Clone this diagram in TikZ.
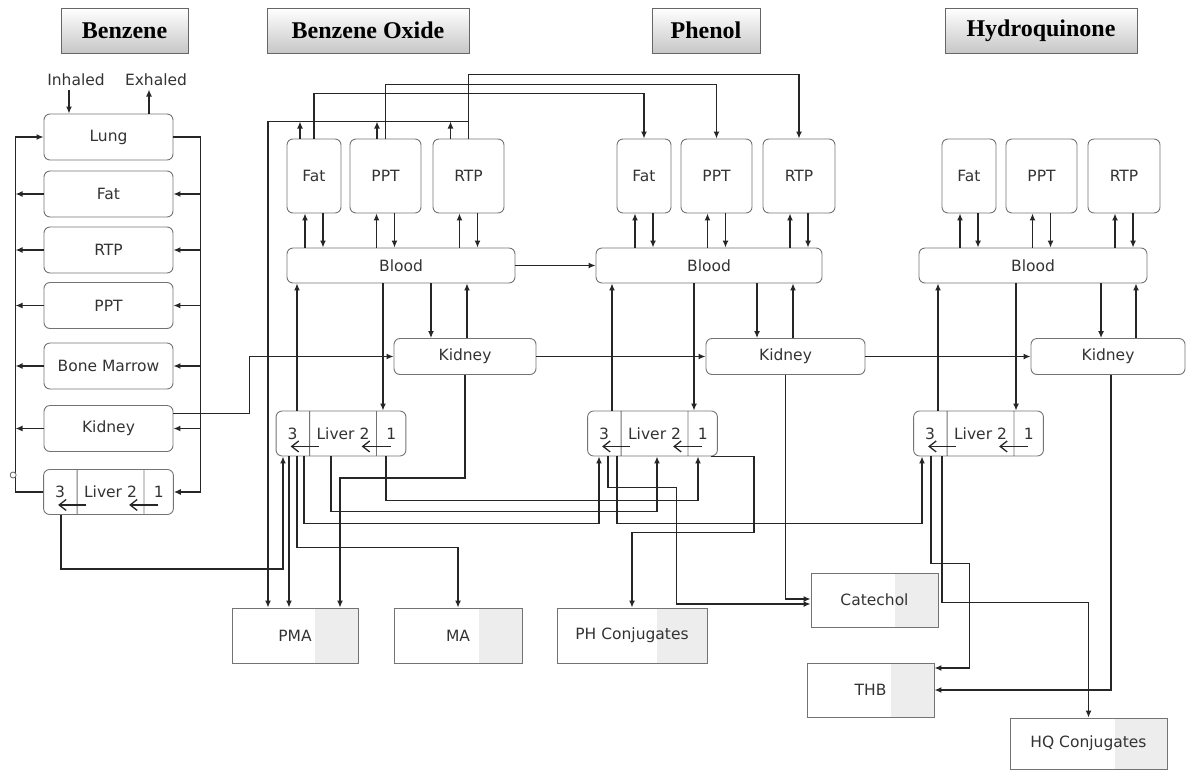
\documentclass[tikz,border=0pt]{standalone}
\usepackage{fontspec}
\setmainfont{DejaVu Sans}
\newfontfamily\headfont{Liberation Serif}
\usetikzlibrary{arrows.meta,shapes.multipart}

\tikzset{
  organ/.style={draw=black!55, line width=0.9pt, rounded corners=6pt, inner sep=0pt,
    text=black!80, font=\fontsize{15.5}{17}\selectfont},
  tissue/.style={organ, minimum width=129pt, minimum height=46pt},
  tall/.style={organ, minimum height=74pt},
  liver/.style={organ, rectangle split, rectangle split horizontal,
    rectangle split parts=3, minimum height=45pt},
  product/.style={draw=black!55, line width=0.9pt, inner sep=0pt, text=black!80,
    font=\fontsize{15.5}{17}\selectfont, minimum height=55pt,
    path picture={\fill[black!7] ([xshift=-#1]path picture bounding box.north east)
      rectangle (path picture bounding box.south east);}},
  product/.default=43pt,
  header/.style={draw=black!60, line width=1pt, top color=white, bottom color=black!22,
    minimum height=45pt, font=\headfont\bfseries\fontsize{24}{27}\selectfont},
  lbl/.style={text=black!80, font=\fontsize{15.5}{17}\selectfont},
  flow/.style={line width=1.3pt, draw=black!85},
  barb/.style={line width=1.3pt, draw=black!85, -{Straight Barb[length=7pt,width=11pt]}}
}

\newcommand{\liverparts}{\makebox[33pt]{3}\nodepart{two}\makebox[66pt]{Liver 2}\nodepart{three}\makebox[29pt]{1}}

\begin{document}
\begin{tikzpicture}[x=1pt,y=-1pt,>={Latex[length=7pt,width=6pt]}]
\useasboundingbox (0,0) rectangle (1188,769);
% overskrifter
\node[header, minimum width=127pt] (hBenz) at (124.5,30.5) {Benzene};
\node[header, minimum width=202pt] (hOxide) at (368,30.5) {Benzene Oxide};
\node[header, minimum width=108pt] (hPhenol) at (706,30.5) {Phenol};
\node[header, minimum width=192pt] (hHydro) at (1041,30.5) {Hydroquinone};

% benzene
\node[lbl] (inhaled) at (76,80) {Inhaled};
\node[lbl] (exhaled) at (156,80) {Exhaled};
\node[tissue] (lungA) at (108.5,137) {Lung};
\node[tissue] (fatA) at (108.5,194) {Fat};
\node[tissue] (rtpA) at (108.5,250) {RTP};
\node[tissue] (pptA) at (108.5,305.5) {PPT};
\node[tissue] (marrowA) at (108.5,366) {Bone Marrow};
\node[tissue] (kidneyA) at (108.5,428.5) {Kidney};
\node[liver] (liverA) at (108.5,492) {\liverparts};

% benzene oxide
\node[tall, minimum width=54pt] (fatB) at (314,176) {Fat};
\node[tall, minimum width=71pt] (pptB) at (385.5,176) {PPT};
\node[tall, minimum width=71pt] (rtpB) at (468.5,176) {RTP};
\node[organ, minimum width=228pt, minimum height=35pt] (bloodB) at (401,265.5) {Blood};
\node[organ, minimum width=142pt, minimum height=36pt] (kidneyB) at (465,356.5) {Kidney};
\node[liver] (liverB) at (341,433.5) {\liverparts};

% phenol
\node[tall, minimum width=54pt] (fatP) at (644,176) {Fat};
\node[tall, minimum width=71pt] (pptP) at (716.5,176) {PPT};
\node[tall, minimum width=72pt] (rtpP) at (799,176) {RTP};
\node[organ, minimum width=226pt, minimum height=35pt] (bloodP) at (709,265.5) {Blood};
\node[organ, minimum width=159pt, minimum height=36pt] (kidneyP) at (785.5,356.5) {Kidney};
\node[liver] (liverP) at (652.5,433.5) {\liverparts};

% hydroquinone
\node[tall, minimum width=54pt] (fatH) at (969,176) {Fat};
\node[tall, minimum width=71pt] (pptH) at (1041.5,176) {PPT};
\node[tall, minimum width=72pt] (rtpH) at (1124,176) {RTP};
\node[organ, minimum width=228pt, minimum height=35pt] (bloodH) at (1033,265.5) {Blood};
\node[organ, minimum width=154pt, minimum height=36pt] (kidneyH) at (1108,356.5) {Kidney};
\node[liver] (liverH) at (978.5,433.5) {\liverparts};

% produkter
\node[product, minimum width=126pt] (pma) at (295,635.5) {PMA};
\node[product, minimum width=128pt] (ma) at (458,635.5) {MA};
\node[product=50pt, minimum width=150pt] (phconj) at (632,635.5) {PH Conjugates};
\node[product, minimum width=127pt, minimum height=54pt] (catechol) at (874.5,600) {Catechol};
\node[product, minimum width=127pt, minimum height=54pt] (thb) at (870.5,690) {THB};
\node[product=52pt, minimum width=157pt, minimum height=51pt] (hqconj) at (1088.5,743.5) {HQ Conjugates};

% benzene pile
\draw[flow,->] ([xshift=-7pt]inhaled.south) -- ([xshift=-7pt]inhaled.south |- lungA.north);
\draw[flow,->] ([xshift=-7pt]exhaled.south |- lungA.north) -- ([xshift=-7pt]exhaled.south);
\draw[flow,->] (liverA.west) -- ++(-28,0) |- (lungA.west);
\draw[flow,->] (lungA.east) -- ++(27,0) |- (liverA.east);
\foreach \o in {fatA,rtpA,pptA,marrowA,kidneyA} {
  \draw[flow,->] (\o.west) -- ++(-28,0);
  \draw[flow,->] ([xshift=27pt]\o.east) -- (\o.east);
}
\draw[black!60, line width=0.8pt, fill=white] ([shift={(-30pt,17pt)}]liverA.west) circle (3pt);
\draw[flow,->] ([yshift=15pt]kidneyA.east) -- ++(76,0) |- (kidneyB.west);
\draw[flow,->] ([xshift=-47.5pt]liverA.south) -- ++(0,54) -| ([xshift=-58pt]liverB.south);

% vaev og blod
\foreach \o/\b in {fatB/bloodB,pptB/bloodB,rtpB/bloodB,fatP/bloodP,pptP/bloodP,rtpP/bloodP,fatH/bloodH,pptH/bloodH,rtpH/bloodH} {
  \draw[flow,->] ([xshift=-9pt]\o.south |- \b.north) -- ([xshift=-9pt]\o.south);
  \draw[flow,->] ([xshift=9pt]\o.south) -- ([xshift=9pt]\o.south |- \b.north);
}
\foreach \l/\b/\u/\d in {liverB/bloodB/-44/42,liverP/bloodP/-40.5/41.5,liverH/bloodH/-40.5/37.5} {
  \draw[flow,->] ([xshift=\u pt]\l.north) -- ([xshift=\u pt]\l.north |- \b.south);
  \draw[flow,->] ([xshift=\d pt]\l.north |- \b.south) -- ([xshift=\d pt]\l.north);
}
\foreach \k/\b/\d/\u in {kidneyB/bloodB/-34/2,kidneyP/bloodP/-28.5/7.5,kidneyH/bloodH/-7/28} {
  \draw[flow,->] ([xshift=\d pt]\k.north |- \b.south) -- ([xshift=\d pt]\k.north);
  \draw[flow,->] ([xshift=\u pt]\k.north) -- ([xshift=\u pt]\k.north |- \b.south);
}
\foreach \l in {liverA,liverB,liverP,liverH} {
  \draw[barb] ([shift={(43pt,10pt)}]\l.south west) -- ++(-28,0);
  \draw[barb] ([shift={(115pt,10pt)}]\l.south west) -- ++(-29,0);
}

% benzene oxide videre
\foreach \o/\dx in {fatB/-14,pptB/-8.5,rtpB/-18}
  \draw[flow,->] ([xshift=\dx pt]\o.north) -- ++(0,-17);
\draw[flow,->] ([yshift=17pt]rtpB.north) -| ([xshift=-27pt]pma.north);
\draw[flow,->] (fatB.north) -- ++(0,-45) -| (fatP.north);
\draw[flow,->] (pptB.north) -- ++(0,-54) -| (pptP.north);
\draw[flow,->] (rtpB.north) -- ++(0,-64) -| (rtpP.north);
\draw[flow,->] (bloodB.east) -- (bloodP.west);
\draw[flow,->] (kidneyB.east) -- (kidneyP.west);
\draw[flow,->] (kidneyP.east) -- (kidneyH.west);
\draw[flow,->] (kidneyB.south) -- ++(0,103) -| ([xshift=45pt]pma.north);
\draw[flow,->] ([xshift=-52pt]liverB.south) -- ([xshift=-52pt]liverB.south |- pma.north);
\draw[flow,->] ([xshift=-44pt]liverB.south) -- ++(0,91) -| (ma.north);
\draw[flow,->] ([xshift=-37pt]liverB.south) -- ++(0,67) -| ([xshift=-53.5pt]liverP.south);
\draw[flow,->] ([xshift=-10pt]liverB.south) -- ++(0,55) -| ([xshift=4.5pt]liverP.south);
\draw[flow,->] ([xshift=45pt]liverB.south) -- ++(0,44) -| ([xshift=45.5pt]liverP.south);

% phenol videre
\draw[flow,->] ([xshift=-44.5pt]liverP.south) -- ++(0,31) -| ([shift={(-134pt,-4pt)}]catechol.west) -- ([yshift=-4pt]catechol.west);
\draw[flow,->] ([xshift=-35.5pt]liverP.south) -- ++(0,67) -| ([xshift=-56.5pt]liverH.south);
\draw[flow,->] ([xshift=-6.5pt]liverP.south east) -- ++(42.5,0) |- ([yshift=75pt]phconj.north) -- (phconj.north);
\draw[flow,->] (kidneyP.south) |- ([yshift=1pt]catechol.west);

% hydroquinone videre
\draw[flow,->] ([xshift=-47.5pt]liverH.south) -- ++(0,107) -| ([shift={(35pt,22pt)}]thb.east) -- ([yshift=22pt]thb.east);
\draw[flow,->] ([xshift=-36.5pt]liverH.south) -- ++(0,146) -| (hqconj.north);
\draw[flow,->] ([xshift=3pt]kidneyH.south) |- (thb.east);
\end{tikzpicture}
\end{document}
